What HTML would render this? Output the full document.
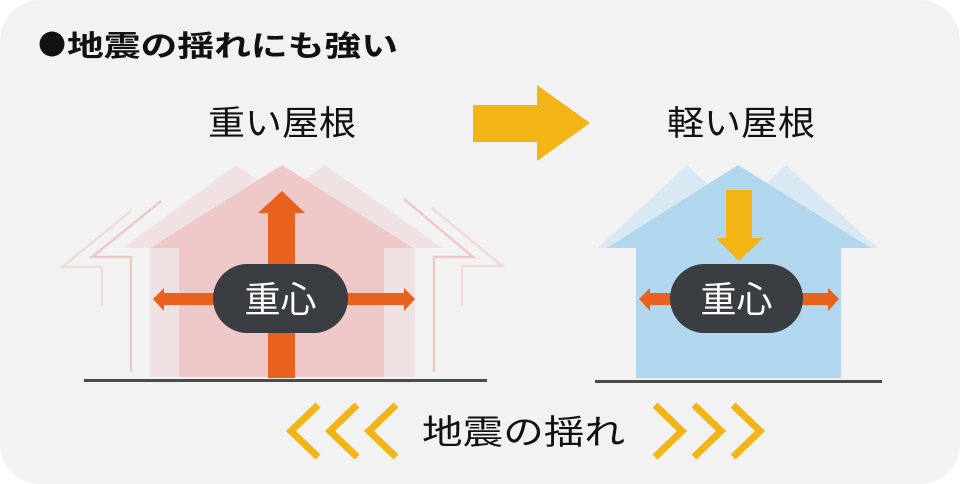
<!DOCTYPE html>
<html><head><meta charset="utf-8"><style>html,body{margin:0;padding:0;background:#fff;}svg{display:block}</style></head>
<body>
<svg width="960" height="484" viewBox="0 0 960 484" xmlns="http://www.w3.org/2000/svg" font-family="'Liberation Sans','Noto Sans CJK JP',sans-serif">
<rect x="0" y="0" width="960" height="484" rx="40" fill="#f2f2f2"/>
<circle cx="52" cy="44" r="12.5" fill="#111"/>
<text x="67" y="56" font-size="29" font-weight="bold" fill="#111" textLength="331" lengthAdjust="spacingAndGlyphs">地震の揺れにも強い</text>
<text x="208" y="135" font-size="34" fill="#111" textLength="148" lengthAdjust="spacingAndGlyphs">重い屋根</text>
<text x="667" y="135" font-size="34" fill="#111" textLength="148" lengthAdjust="spacingAndGlyphs">軽い屋根</text>
<polygon points="473,105 537,105 537,85 590,123 537,161 537,142 473,142" fill="#f2b515"/>

<!-- left house -->
<g fill="#f0e2e2">
<polygon points="236,165 123,248 150,248 150,377 384,377 384,248 354,248"/>
<polygon points="325,165 209,248 415,248 415,377 384,377 384,248 443,248"/>
</g>
<polygon points="282,165 150,248 179,248 179,377 384,377 384,248 413,248" fill="#efc8c9"/>
<polygon points="150,248 179,248 179,377 150,377" fill="#f0e2e2"/>
<g fill="none" stroke-width="2.5">
<polyline points="161,201 92,257 131,257 131,372" stroke="#efc8c9"/>
<polyline points="131,211 62,267 102,267 102,306" stroke="#f0dada"/>
<polyline points="404,199 473,257 434,257 434,372" stroke="#efc8c9"/>
<polyline points="432,208 502,266 462,266 462,306" stroke="#f0dada"/>
</g>
<polygon points="268,378 268,213 258,213 282,191 305,213 295,213 295,378" fill="#e8611d"/>
<polygon points="153,299 164,288 164,293 404,293 404,288 415,299 404,311 404,305 164,305 164,311" fill="#e8611d"/>
<rect x="213" y="264" width="135" height="69" rx="34.5" fill="#3a3d42"/>
<text x="280.5" y="312" font-size="36" fill="#fff" text-anchor="middle">重心</text>
<rect x="84" y="379" width="403" height="3" fill="#4a4a4a"/>

<!-- right house -->
<g fill="#d9e9f3">
<polygon points="687,165 598,248 776,248"/>
<polygon points="786,165 696,248 878,248"/>
</g>
<polygon points="738,165 607,248 636,248 636,378 841,378 841,248 871,248" fill="#b0d7ee"/>
<polygon points="726,190 752,190 752,238 763,238 739,261 716,238 726,238" fill="#f2b515"/>
<polygon points="639,299 650,288 650,293 828,293 828,288 839,299 828,311 828,305 650,305 650,311" fill="#e8611d"/>
<rect x="670" y="264" width="133" height="69" rx="34.5" fill="#3a3d42"/>
<text x="736.5" y="312" font-size="36" fill="#fff" text-anchor="middle">重心</text>
<rect x="595" y="380" width="287" height="3" fill="#4a4a4a"/>

<!-- bottom -->
<g fill="none" stroke="#f2b515" stroke-width="7">
<polyline points="318,405 291,431 318,457"/>
<polyline points="357,405 330,431 357,457"/>
<polyline points="396,405 369,431 396,457"/>
<polyline points="655,405 682,431 655,457"/>
<polyline points="694,405 721,431 694,457"/>
<polyline points="733,405 760,431 733,457"/>
</g>
<text x="422" y="444" font-size="34" fill="#111" textLength="203" lengthAdjust="spacingAndGlyphs">地震の揺れ</text>
</svg>
</body></html>
